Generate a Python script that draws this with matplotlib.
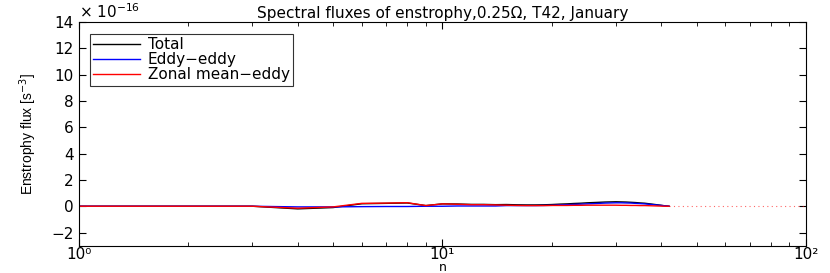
import matplotlib.pyplot as plt
from matplotlib.ticker import FixedLocator, FixedFormatter, NullFormatter
import numpy as np

plt.rcParams['font.family'] = ['DejaVu Sans']

# wavenumbers (T42) and fluxes in units of 1e-16 s^-3
n = np.arange(1, 43)
eddy = [0, 0, 0, -0.05, -0.05, -0.03, -0.02, -0.02, 0, 0,
        0.02, 0.02, 0.02, 0.02, 0.05, 0.05, 0.05, 0.05, 0.06, 0.07,
        0.1, 0.12, 0.14, 0.16, 0.18, 0.2, 0.22, 0.24, 0.25, 0.26,
        0.26, 0.25, 0.24, 0.22, 0.2, 0.18, 0.15, 0.12, 0.09, 0.06,
        0.03, 0.0]
zonal = [0, 0, 0, -0.15, -0.05, 0.22, 0.24, 0.27, 0.05, 0.18,
         0.15, 0.12, 0.12, 0.1, 0.08, 0.06, 0.05, 0.05, 0.05, 0.06,
         0.06, 0.06, 0.07, 0.07, 0.08, 0.08, 0.08, 0.08, 0.08, 0.08,
         0.07, 0.07, 0.06, 0.06, 0.05, 0.05, 0.04, 0.03, 0.02, 0.01,
         0.0, 0.0]
total = [e + z for e, z in zip(eddy, zonal)]
n_tail = [42, 100]
tail = [0, 0]
xticks = [1, 10, 100]
xlabels = ['10\u2070', '10\u00b9', '10\u00b2']

fig = plt.figure(figsize=(8.3, 2.73), dpi=100)
ax = fig.add_axes([0.0952, 0.100, 0.8758, 0.819])

ax.plot(n, total, color='black', lw=1.0, label='Total')
ax.plot(n, eddy, color='blue', lw=1.0, label='Eddy\u2212eddy')
ax.plot(n, zonal, color='red', lw=1.0, label='Zonal mean\u2212eddy')
ax.plot(n_tail, tail, color='red', lw=0.8, ls=(0, (1, 3)), alpha=0.6)

ax.set_xscale('log')
ax.set_xlim(1, 100)
ax.xaxis.set_major_locator(FixedLocator(xticks))
ax.xaxis.set_major_formatter(FixedFormatter(xlabels))
ax.xaxis.set_minor_formatter(NullFormatter())
ax.set_ylim(-3, 14)
ax.set_yticks(np.arange(-2, 15, 2))
ax.tick_params(which='both', direction='in', top=True, right=True, labelsize=11)
ax.tick_params(axis='x', labelsize=11, pad=1)
ax.tick_params(which='major', length=5)
ax.tick_params(which='minor', length=3)
ax.tick_params(axis='y', pad=4)

ax.set_xlabel('n', fontsize=9)
ax.xaxis.set_label_coords(0.5, -0.068)
ax.set_ylabel('Enstrophy flux [s$^{-3}$]', fontsize=10,
              family=['Liberation Sans', 'DejaVu Sans'], labelpad=9)
ax.set_title('Spectral fluxes of enstrophy,0.25\u03a9, T42, January', fontsize=11, pad=3)
ax.text(0.0, 1.003, '\u00d7 10$^{-16}$', transform=ax.transAxes, fontsize=11,
        ha='left', va='bottom')

leg = ax.legend(loc='upper left', fontsize=11, fancybox=False, edgecolor='black',
                handlelength=3.1, borderpad=0.2, labelspacing=0.0, handletextpad=0.5,
                bbox_to_anchor=(0.0145, 0.945), borderaxespad=0)
leg.get_frame().set_linewidth(0.8)

fig.savefig('out.png', dpi=100)
